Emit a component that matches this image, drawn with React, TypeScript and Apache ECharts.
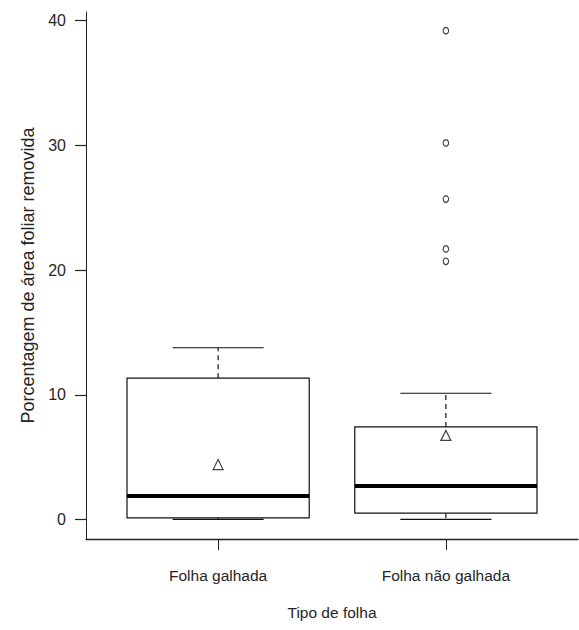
import React, { useEffect, useRef } from "react";
import * as echarts from "echarts";

const categories = ["Folha galhada", "Folha não galhada"];
const whiskerLow = [0, 0];
const q1 = [0.13, 0.5];
const median = [1.87, 2.68];
const q3 = [11.33, 7.42];
const whiskerHigh = [13.77, 10.12];
const means = [4.4, 6.74];
const outlierGroup = [2, 2, 2, 2, 2];
const outlierValues = [39.2, 30.2, 25.7, 21.7, 20.7];
const yTicks = [0, 10, 20, 30, 40];

const FONT = "'Liberation Sans', Arial, sans-serif";
const INK = "#111";
const TEXT = "#262626";

export default function App() {
  const ref = useRef<HTMLDivElement>(null);

  useEffect(() => {
    document.body.style.margin = "0";
    if (!ref.current) return;
    const chart = echarts.init(ref.current, null, { renderer: "svg" });

    const boxData = categories.map((_, i) => [
      i + 1,
      whiskerLow[i],
      q1[i],
      median[i],
      q3[i],
      whiskerHigh[i],
    ]);

    const renderItem = (params: any, api: any) => {
      const x = api.value(0);
      const pLow = api.coord([x, api.value(1)]);
      const pQ1 = api.coord([x, api.value(2)]);
      const pMed = api.coord([x, api.value(3)]);
      const pQ3 = api.coord([x, api.value(4)]);
      const pHigh = api.coord([x, api.value(5)]);
      const hw = api.size([0.4, 0])[0];
      const cw = api.size([0.2, 0])[0];
      const xc = pMed[0];
      const solid = { stroke: INK, lineWidth: 1.2, fill: "none" };
      const dashed = { stroke: INK, lineWidth: 1.2, lineDash: [5, 4] };
      return {
        type: "group",
        children: [
          {
            type: "line",
            shape: { x1: xc, y1: pQ3[1], x2: xc, y2: pHigh[1] },
            style: dashed,
          },
          {
            type: "line",
            shape: { x1: xc, y1: pQ1[1], x2: xc, y2: pLow[1] },
            style: dashed,
          },
          {
            type: "line",
            shape: { x1: xc - cw, y1: pHigh[1], x2: xc + cw, y2: pHigh[1] },
            style: solid,
          },
          {
            type: "line",
            shape: { x1: xc - cw, y1: pLow[1], x2: xc + cw, y2: pLow[1] },
            style: solid,
          },
          {
            type: "rect",
            shape: {
              x: xc - hw,
              y: pQ3[1],
              width: hw * 2,
              height: pQ1[1] - pQ3[1],
            },
            style: { ...solid, fill: "#fff" },
          },
          {
            type: "line",
            shape: { x1: xc - hw, y1: pMed[1], x2: xc + hw, y2: pMed[1] },
            style: { stroke: "#000", lineWidth: 4 },
          },
        ],
      };
    };

    chart.setOption({
      animation: false,
      backgroundColor: "#fff",
      grid: { left: 86, right: 1, top: 12, bottom: 91 },
      xAxis: {
        type: "value",
        min: 0.42,
        max: 2.58,
        splitLine: { show: false },
        axisLine: { show: true, onZero: false, lineStyle: { color: "#222", width: 1.3 } },
        axisTick: {
          show: true,
          customValues: [1, 2],
          length: 11,
          lineStyle: { color: "#222", width: 1 },
        },
        axisLabel: {
          customValues: [1, 2],
          formatter: (v: number) => categories[Math.round(v) - 1] ?? "",
          fontFamily: FONT,
          fontSize: 15.5,
          color: TEXT,
          margin: 28,
        },
        name: "Tipo de folha",
        nameLocation: "middle",
        nameGap: 65,
        nameTextStyle: { fontFamily: FONT, fontSize: 15.5, color: TEXT },
      },
      yAxis: {
        type: "value",
        min: -1.57,
        max: 40.7,
        splitLine: { show: false },
        axisLine: { show: true, onZero: false, lineStyle: { color: "#222", width: 1 } },
        axisTick: {
          show: true,
          customValues: yTicks,
          length: 11,
          lineStyle: { color: "#222", width: 1.2 },
        },
        axisLabel: {
          customValues: yTicks,
          fontFamily: FONT,
          fontSize: 16,
          color: TEXT,
          margin: 20,
        },
        name: "Porcentagem de área foliar removida",
        nameLocation: "middle",
        nameGap: 49,
        nameTextStyle: { fontFamily: FONT, fontSize: 18, color: TEXT },
      },
      series: [
        {
          type: "custom",
          renderItem,
          data: boxData,
          encode: { x: 0, y: [1, 2, 3, 4, 5] },
          z: 2,
        },
        {
          type: "scatter",
          data: categories.map((_, i) => [i + 1, means[i]]),
          symbol: "triangle",
          symbolSize: [10, 10],
          itemStyle: { color: "#fff", borderColor: INK, borderWidth: 1.2 },
          z: 5,
        },
        {
          type: "scatter",
          data: outlierValues.map((v, i) => [outlierGroup[i], v]),
          symbol: "circle",
          symbolSize: [5.5, 6.5],
          itemStyle: { color: "#fff", borderColor: INK, borderWidth: 1.2 },
          z: 5,
        },
      ],
    });

    return () => chart.dispose();
  }, []);

  return <div ref={ref} style={{ width: 579, height: 630 }} />;
}
